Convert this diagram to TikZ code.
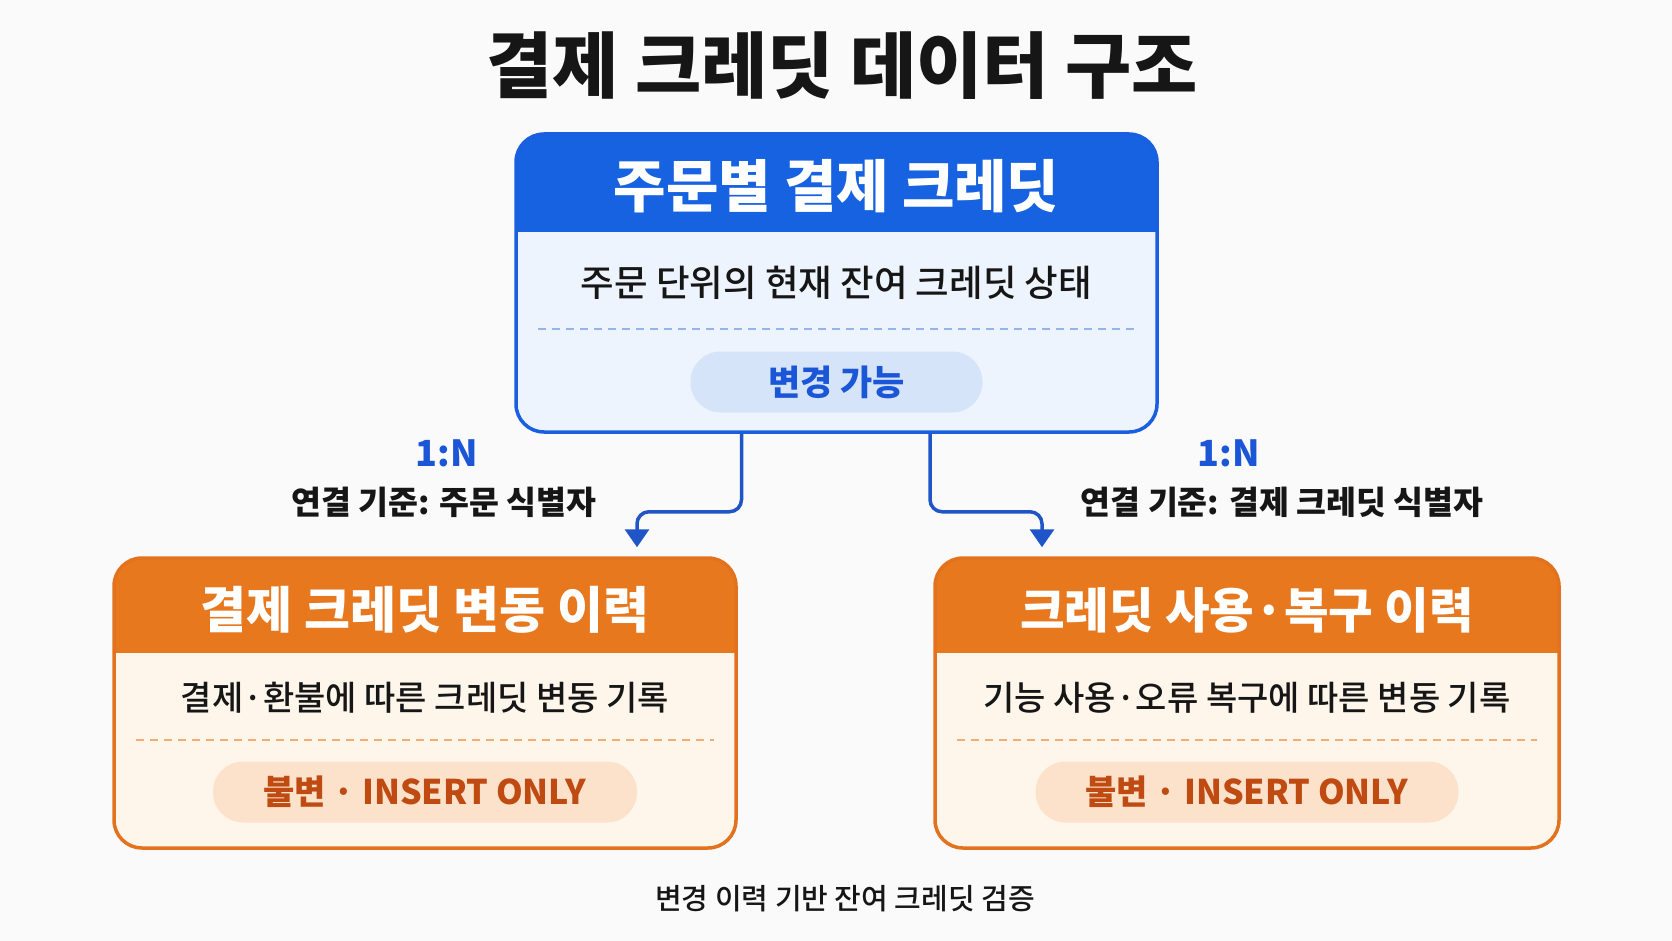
\documentclass[tikz,border=0pt]{standalone}
\usepackage{fontspec}
\setmainfont{Noto Sans CJK KR}
\newfontfamily\medfont{Noto Sans CJK KR Medium}
\newfontfamily\heavyfont{Noto Sans CJK KR Black}
\usetikzlibrary{arrows.meta}

\definecolor{bg}{HTML}{FAFAFA}
\definecolor{ink}{HTML}{161616}
\definecolor{bhead}{HTML}{1662E0}
\definecolor{bline}{HTML}{1A5FE0}
\definecolor{bbody}{HTML}{EEF4FD}
\definecolor{bpill}{HTML}{D6E4FA}
\definecolor{btext}{HTML}{1A56D6}
\definecolor{bdash}{HTML}{94B5EC}
\definecolor{conn}{HTML}{1F55C6}
\definecolor{ohead}{HTML}{E8781E}
\definecolor{oline}{HTML}{E2721E}
\definecolor{obody}{HTML}{FEF5EB}
\definecolor{opill}{HTML}{FCE2CA}
\definecolor{otext}{HTML}{BF4A12}
\definecolor{odash}{HTML}{F0AE74}

\newcommand{\fs}[1]{\fontsize{#1}{#1}\selectfont}

\begin{document}
\begin{tikzpicture}[x=1pt,y=-1pt,
  card/.style={inner sep=0pt, line width=3.5pt, rounded corners=28pt},
  bluecard/.style={card, draw=bline, fill=bbody,
    path picture={\fill[bhead, sharp corners] (path picture bounding box.north west)
      rectangle ([yshift=-98pt]path picture bounding box.north east);}},
  orangecard/.style={card, draw=oline, fill=obody,
    path picture={\fill[ohead, sharp corners] (path picture bounding box.north west)
      rectangle ([yshift=-95pt]path picture bounding box.north east);}},
  headtext/.style={text=white, font=\heavyfont\fs{#1}},
  bodytext/.style={text=ink, font=\medfont\fs{#1}},
  pill/.style={inner sep=0pt, rounded corners=30pt, minimum height=61pt},
  divider/.style={line width=1.8pt, dash pattern=on 8pt off 6pt},
  linkline/.style={draw=conn, line width=3.5pt, rounded corners=12pt,
    -{Triangle[width=24pt,length=18pt]}},
  ratio/.style={text=btext, font=\bfseries\fs{36}},
  keytext/.style={text=ink, font=\bfseries\fs{32.5}}
]
\useasboundingbox[fill=bg] (0,0) rectangle (1672,941);

% title
\node[text=ink, font=\heavyfont\fs{72}] (title) at (842,66) {결제 크레딧 데이터 구조};

% order-level credit card
\node[bluecard, minimum width=641pt, minimum height=298pt] (top) at (836.5,283) {};
\node[headtext=57] (toph) at (836.5,186) {주문별 결제 크레딧};
\node[bodytext=36.5] (topb) at (836.5,283) {주문 단위의 현재 잔여 크레딧 상태};
\coordinate (tdl) at (538,329);
\coordinate (tdr) at (1134,329);
\draw[divider, draw=bdash] (tdl) -- (tdr);
\node[pill, fill=bpill, minimum width=292pt, text=btext, font=\bfseries\fs{35}] (topp) at (836.5,382) {변경 가능};

% credit change history card
\node[orangecard, minimum width=622pt, minimum height=290pt] (lbox) at (425,703) {};
\node[headtext=50] (lboxh) at (425,610) {결제 크레딧 변동 이력};
\node[bodytext=34] (lboxb) at (425,698) {결제·환불에 따른 크레딧 변동 기록};
\coordinate (ldl) at (136,740);
\coordinate (ldr) at (714,740);
\draw[divider, draw=odash] (ldl) -- (ldr);
\node[pill, fill=opill, minimum width=424pt, text=otext, font=\bfseries\fs{34}] (lboxp) at (425,792) {불변 · INSERT ONLY};

% credit usage / recovery history card
\node[orangecard, minimum width=624pt, minimum height=290pt] (rbox) at (1247,703) {};
\node[headtext=48.5] (rboxh) at (1247,610) {크레딧 사용·복구 이력};
\node[bodytext=34] (rboxb) at (1247,698) {기능 사용·오류 복구에 따른 변동 기록};
\coordinate (rdl) at (957,740);
\coordinate (rdr) at (1537,740);
\draw[divider, draw=odash] (rdl) -- (rdr);
\node[pill, fill=opill, minimum width=423pt, text=otext, font=\bfseries\fs{34}] (rboxp) at (1247,792) {불변 · INSERT ONLY};

% relations
\draw[linkline] ([xshift=-95pt]top.south) -- ++(0,78) -| ([xshift=212pt,yshift=9pt]lbox.north);
\draw[linkline] ([xshift=93.5pt]top.south) -- ++(0,78) -| ([xshift=-205pt,yshift=9pt]rbox.north);

\node[ratio] (lratio) at (447,453) {1:N};
\node[keytext] (lkey) at (444,502) {연결 기준: 주문 식별자};
\node[ratio] (rratio) at (1229,453) {1:N};
\node[keytext] (rkey) at (1282,502) {연결 기준: 결제 크레딧 식별자};

% footnote
\node[text=ink, font=\medfont\fs{29}] (foot) at (845,899) {변경 이력 기반 잔여 크레딧 검증};
\end{tikzpicture}
\end{document}
